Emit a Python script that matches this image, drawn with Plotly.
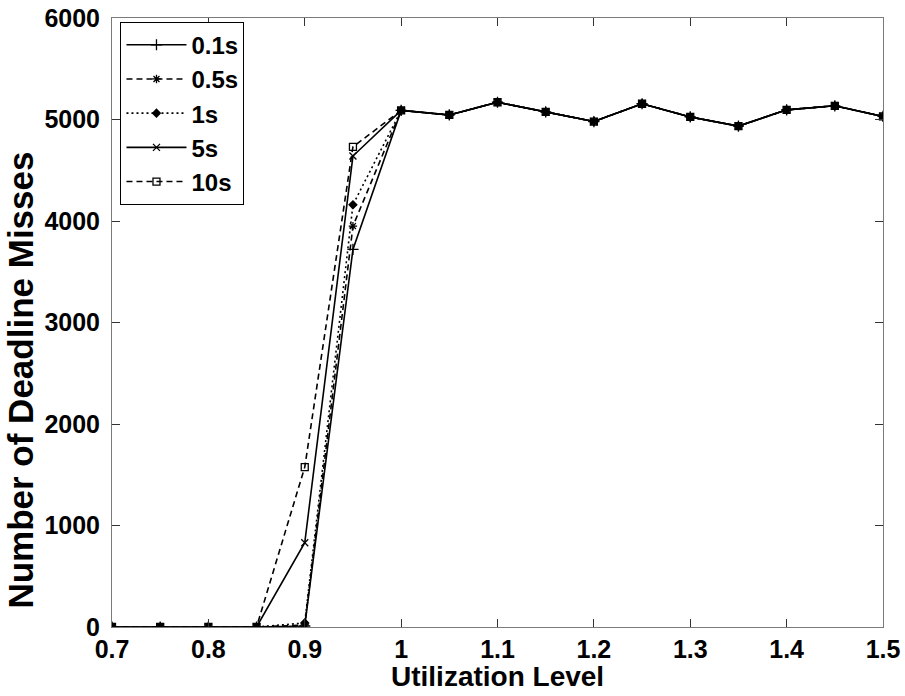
import plotly.graph_objects as go

# Data
utilization = [0.70, 0.75, 0.80, 0.85, 0.90, 0.95, 1.00, 1.05, 1.10, 1.15,
               1.20, 1.25, 1.30, 1.35, 1.40, 1.45, 1.50]

misses_01s = [0, 0, 0, 0, 10, 3720, 5090, 5045, 5170, 5075, 4980, 5155, 5025, 4935, 5095, 5135, 5030]
misses_05s = [0, 0, 0, 0, 20, 3950, 5090, 5045, 5170, 5075, 4980, 5155, 5025, 4935, 5095, 5135, 5030]
misses_1s = [0, 0, 0, 0, 40, 4160, 5090, 5045, 5170, 5075, 4980, 5155, 5025, 4935, 5095, 5135, 5030]
misses_5s = [0, 0, 0, 0, 830, 4640, 5090, 5045, 5170, 5075, 4980, 5155, 5025, 4935, 5095, 5135, 5030]
misses_10s = [0, 0, 0, 0, 1575, 4730, 5090, 5045, 5170, 5075, 4980, 5155, 5025, 4935, 5095, 5135, 5030]

series_names = ["0.1s", "0.5s", "1s", "5s", "10s"]

x_tickvals = [0.7, 0.8, 0.9, 1.0, 1.1, 1.2, 1.3, 1.4, 1.5]
x_ticktext = ["0.7", "0.8", "0.9", "1", "1.1", "1.2", "1.3", "1.4", "1.5"]
y_tickvals = [0, 1000, 2000, 3000, 4000, 5000, 6000]

FONT = "Liberation Sans"

styles = [
    dict(dash="solid", symbol="cross-thin-open", size=8),
    dict(dash="6px,4px", symbol="asterisk-open", size=7),
    dict(dash="2px,3px", symbol="diamond", size=6),
    dict(dash="solid", symbol="x-thin-open", size=7),
    dict(dash="6px,4px", symbol="square-open", size=7),
]

fig = go.Figure()
for name, ys, st in zip(series_names, [misses_01s, misses_05s, misses_1s, misses_5s, misses_10s], styles):
    fig.add_trace(go.Scatter(
        x=utilization, y=ys, name=name, mode="lines+markers",
        line=dict(color="black", width=1.6, dash=st["dash"]),
        marker=dict(symbol=st["symbol"], size=st["size"], color="black",
                    line=dict(color="black", width=1.3)),
    ))

axis_common = dict(
    showgrid=False, zeroline=False, showline=True, linecolor="#7a7a7a", linewidth=1,
    mirror="ticks", ticks="inside", ticklen=8, tickcolor="#333333", tickwidth=1,
    tickfont=dict(family=FONT, size=25, color="black", weight="bold"),
    automargin=False,
)

fig.update_layout(
    width=905, height=696,
    margin=dict(l=112, r=22, t=18, b=69),
    paper_bgcolor="white", plot_bgcolor="white",
    showlegend=True,
    legend=dict(
        x=0.011, y=0.994, xanchor="left", yanchor="top",
        bgcolor="white", bordercolor="black", borderwidth=1,
        font=dict(family=FONT, size=24, color="black", weight="bold"),
        itemwidth=60,
    ),
    xaxis=dict(range=[0.7, 1.5], tickvals=x_tickvals, ticktext=x_ticktext,
               ticklabelstandoff=0,
               **axis_common),
    yaxis=dict(range=[0, 6000], tickvals=y_tickvals, ticklabelstandoff=6,
               **axis_common),
    annotations=[
        dict(
            text="Number of Deadline Misses", textangle=-90,
            xref="paper", yref="paper", x=-0.119, y=0.405,
            xanchor="center", yanchor="middle", showarrow=False,
            font=dict(family=FONT, size=35, color="black", weight="bold"),
        ),
        dict(
            text="Utilization Level",
            xref="paper", yref="paper", x=0.5, y=-0.082,
            xanchor="center", yanchor="middle", showarrow=False,
            font=dict(family=FONT, size=28, color="black", weight="bold"),
        ),
    ],
)

fig.write_html("out.html")
